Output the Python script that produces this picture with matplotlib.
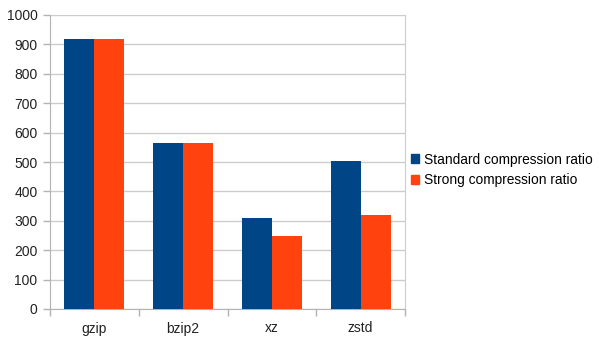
import numpy as np
import matplotlib.pyplot as plt
from matplotlib.patches import Patch

plt.rcParams['font.family'] = ['Liberation Sans', 'DejaVu Sans']

categories = ['gzip', 'bzip2', 'xz', 'zstd']
standard = [920, 565, 310, 503]
strong = [917, 565, 248, 320]
series_names = ['Standard compression ratio', 'Strong compression ratio']
colors = ['#004586', '#ff420e']

fig = plt.figure(figsize=(6.05, 3.4), dpi=100)
ax = fig.add_axes([50 / 605, 31 / 340, 355 / 605, 294 / 340])

x = np.arange(len(categories))
w = 0.338
ax.bar(x - w / 2, standard, w, color=colors[0], zorder=3)
ax.bar(x + w / 2, strong, w, color=colors[1], zorder=3)

ax.set_xlim(-0.5, len(categories) - 0.5)
ax.set_ylim(0, 1000)
ax.set_yticks(range(0, 1001, 100))
ax.set_xticks(x)
ax.set_xticklabels(categories, fontsize=10, color='#222222')
ax.set_xticks(np.arange(-0.5, len(categories), 1), minor=True)
ax.tick_params(axis='x', which='major', length=0, pad=9)
ax.tick_params(axis='x', which='minor', length=5, color='#b3b3b3', width=1)
ax.tick_params(axis='y', length=5, color='#b3b3b3', width=1, labelsize=10,
               labelcolor='#222222', pad=4)
ax.grid(axis='y', color='#cccccc', linewidth=1, zorder=0)

ax.spines['top'].set_visible(False)
ax.spines['right'].set_color('#cccccc')
ax.spines['left'].set_color('#b3b3b3')
ax.spines['bottom'].set_color('#b3b3b3')

handles = [Patch(color=c) for c in colors]
fig.legend(handles, series_names, loc='center left', bbox_to_anchor=(411 / 605, 170 / 340),
           frameon=False, fontsize=9.9, handlelength=0.6, handleheight=0.6,
           handletextpad=0.35, labelspacing=0.5, borderaxespad=0, borderpad=0)

fig.savefig('out.png', dpi=100)
